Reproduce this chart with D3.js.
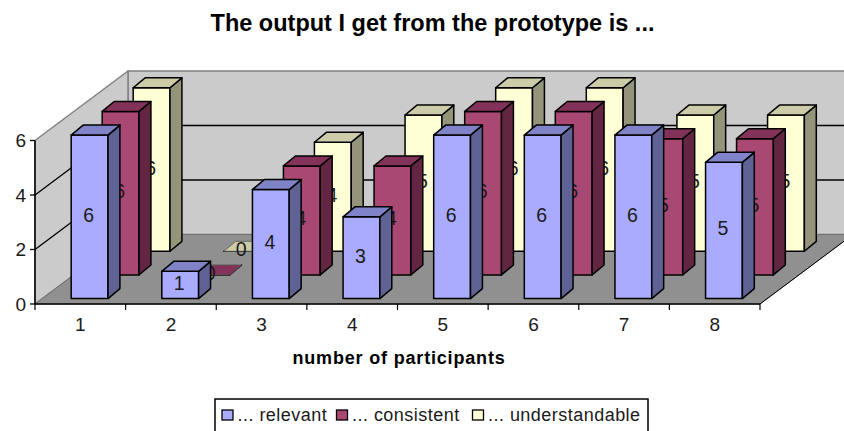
<!DOCTYPE html>
<html><head><meta charset="utf-8">
<style>html,body{margin:0;padding:0;background:#fff;overflow:hidden}svg{display:block}text{font-family:"Liberation Sans",Arial,sans-serif;fill:#1a1a1a}</style>
<script src="https://cdn.jsdelivr.net/npm/d3@7"></script></head><body><script>
const titleText = "The output I get from the prototype is ...";
const axisTitle = "number of participants";
const categories = ["1","2","3","4","5","6","7","8"];
const seriesNames = ["... relevant","... consistent","... understandable"];
const relevant = [6,1,4,3,6,6,6,5];
const consistent = [6,0,4,4,6,6,5,5];
const understandable = [6,0,4,5,6,6,5,5];
const yTicks = [0,2,4,6];
const seriesValues = [relevant, consistent, understandable];
const colors = [
 {front:"#A9ABFF",side:"#5F6294",top:"#8083C8"},
 {front:"#A94873",side:"#622542",top:"#83325A"},
 {front:"#FFFFD6",side:"#94947A",top:"#CCCCA8"}];

const W=844,H=431;
const svg=d3.select("body").append("svg").attr("width",W).attr("height",H);
const x=d3.scaleBand().domain(categories).range([35,760]);
const y=d3.scaleLinear().domain([0,6]).range([304,140.5]);
// depth axis: 0 = front of floor, 3 = back wall (one slot per series)
const dx=d3.scaleLinear().domain([0,3]).range([0,93]);
const dy=d3.scaleLinear().domain([0,3]).range([0,-69.5]);
const pt=(cx,v,z,zy)=>[cx+dx(z),y(v)+dy(zy===undefined?z:zy)];
const poly=(g,pts,fill,stroke,sw)=>g.append("polygon").attr("points",pts.map(p=>p.join(",")).join(" "))
  .attr("fill",fill).attr("stroke",stroke).attr("stroke-width",sw).attr("stroke-linejoin","round");
const line=(g,a,b,c,w)=>g.append("line").attr("x1",a[0]).attr("y1",a[1]).attr("x2",b[0]).attr("y2",b[1]).attr("stroke",c).attr("stroke-width",w);

const [xa,xb]=x.range(), yMax=6;
const walls=svg.append("g");
poly(walls,[pt(xa,0,3),pt(xb,0,3),pt(xb,yMax,3),pt(xa,yMax,3)],"#CBCBCB","#808080",1.5);
poly(walls,[pt(xa,0,0),pt(xa,0,3),pt(xa,yMax,3),pt(xa,yMax,0)],"#CBCBCB","#808080",1.5);
poly(walls,[pt(xa,0,0),pt(xb,0,0),pt(xb,0,3),pt(xa,0,3)],"#909090","#707070",1);
yTicks.filter(t=>t>0&&t<yMax).forEach(t=>{
  line(walls,pt(xa,t,0),pt(xa,t,3),"#000",1.3);
  line(walls,pt(xa,t,3),pt(xb,t,3),"#000",1.3);
});
line(walls,pt(xb,0,0),pt(xb,0,3),"#000",1);

// bars, back series first
const slotPitch=1.02, slotPitchX=1.0, slotGap=0.235, barDepthX=0.385, barDepthY=0.43;
const faceOff=28.9/x.bandwidth(), faceW=36.8;
[2,1,0].forEach(s=>{
  const g=svg.append("g");
  seriesValues[s].forEach((v,i)=>{
    const c=colors[s], x0=x(categories[i])+faceOff*x.bandwidth()+dx(s*(slotPitchX-slotPitch)), x1=x0+faceW;
    const z0=s*slotPitch+slotGap, zx=z0+barDepthX, zy=z0+barDepthY;
    poly(g,[pt(x0,0,z0),pt(x1,0,z0),pt(x1,v,z0),pt(x0,v,z0)],c.front,"#000",1.5);
    poly(g,[pt(x1,0,z0),pt(x1,0,zx,zy),pt(x1,v,zx,zy),pt(x1,v,z0)],c.side,"#000",1.5);
    poly(g,[pt(x0,v,z0),pt(x1,v,z0),pt(x1,v,zx,zy),pt(x0,v,zx,zy)],c.top,v===0?"#555":"#000",v===0?0.8:1.5);
    const p=pt((x0+x1)/2,v/2,z0);
    g.append("text").attr("x",p[0]-1).attr("y",p[1]+5).attr("text-anchor","middle")
      .attr("font-size",19.5).text(v);
  });
});

// axes
const ax=svg.append("g");
line(ax,[xa,y(0)],[xa,y(yMax)],"#000",1.5);
line(ax,[xa,y(0)],[xb,y(0)],"#000",1.5);
yTicks.forEach(t=>{
  line(ax,[xa-5,y(t)],[xa,y(t)],"#000",1.3);
  ax.append("text").attr("x",26).attr("y",y(t)+6.5).attr("text-anchor","end").attr("font-size",19).text(t);
});
x.domain().forEach((c,i)=>{
  line(ax,[x(c),y(0)],[x(c),y(0)+6],"#000",1.2);
  ax.append("text").attr("x",x(c)+x.bandwidth()/2).attr("y",331).attr("text-anchor","middle").attr("font-size",19).text(c);
});
line(ax,[xb,y(0)],[xb,y(0)+6],"#000",1.2);

svg.append("text").attr("x",432.5).attr("y",31).attr("text-anchor","middle").attr("font-size",23.5).attr("font-weight","bold").style("fill","#000").text(titleText);
svg.append("text").attr("x",399).attr("y",364).attr("text-anchor","middle").attr("font-size",18).attr("font-weight","bold").attr("letter-spacing",0.82).style("fill","#000").text(axisTitle);

// legend
const lg=svg.append("g");
lg.append("rect").attr("x",215).attr("y",399).attr("width",433).attr("height",50).attr("fill","#fff").attr("stroke","#000").attr("stroke-width",1.5);
const legendX=d3.scaleOrdinal().domain(seriesNames).range([222,336.5,472.5]);
seriesNames.forEach((n,i)=>{
  lg.append("rect").attr("x",legendX(n)).attr("y",410).attr("width",11).attr("height",10).attr("fill",colors[i].front).attr("stroke","#000").attr("stroke-width",1.3);
  lg.append("text").attr("x",legendX(n)+15.5).attr("y",421).attr("font-size",18).attr("letter-spacing",0.47).text(n);
});
</script></body></html>
